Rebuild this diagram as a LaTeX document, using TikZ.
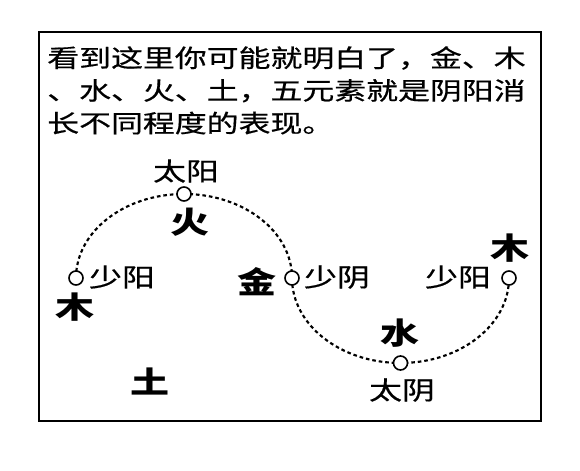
\documentclass[tikz,border=0pt]{standalone}
\usepackage{fontspec}
\usepackage{tikz}
\usepackage{tkz-euclide}
\newfontfamily\cjk[FakeStretch=1.3, FakeBold=0.6]{Noto Sans CJK SC}
\newfontfamily\cjkxing[FakeStretch=1.3]{Noto Sans CJK SC}
\tikzset{
	yypt/.style={circle, draw, line width=1.2pt, fill=white, minimum size=10.5pt, inner sep=0pt},
	yylabel/.style={font=\cjk\fontsize{19}{22}\selectfont, inner sep=0pt},
	xing/.style={font=\cjkxing\bfseries\fontsize{22.5}{26}\selectfont, inner sep=0pt},
	yyline/.style={line width=1.6pt, dash pattern=on 2.7pt off 2.2pt},
}

\begin{document}
\begin{tikzpicture}[x=0.75pt, y=0.75pt]
						\useasboundingbox (0,0) rectangle (580,470);
						\draw[line width=1.5pt] (39,49) rectangle (541,438);
						\node[anchor=north west, align=left, inner sep=0pt,
							font=\cjk\fontsize{18.4}{24.5}\selectfont] (intro) at (47,424)
							{看到这里你可能就明白了，金、木\\、水、火、土，五元素就是阴阳消\\长不同程度的表现。};
						
						% points of the wave
						\tkzDefPoint(76,192){SYa};
						\tkzDefPoint(184,276){TYa};
						\tkzDefPoint(292,192){SYi};
						\tkzDefPoint(400.5,107){TYi};
						\tkzDefPoint(509,192){SYb};
						
						% yang half and yin half
						\draw[yyline] (SYa) arc[start angle=180, end angle=0, x radius=108, y radius=84];
						\draw[yyline] (SYi) arc[start angle=180, end angle=360, x radius=108.5, y radius=85];
						
						\node[yypt] (sya) at (SYa) {};
						\node[yypt] (tya) at (TYa) {};
						\node[yypt] (syi) at (SYi) {};
						\node[yypt] (tyi) at (TYi) {};
						\node[yypt] (syb) at (SYb) {};
						
						\node[yylabel] (lta) at (186,299) {太阳};
						\node[yylabel] (lsa) at (122,193) {少阳};
						\node[yylabel] (lsi) at (337,193) {少阴};
						\node[yylabel] (lsb) at (458,193) {少阳};
						\node[yylabel] (lti) at (402,80) {太阴};
						
						\node[xing] (huo) at (190,248) {火};
						\node[xing] (mua) at (75,163) {木};
						\node[xing] (jin) at (257,188) {金};
						\node[xing] (shui) at (400,137) {水};
						\node[xing] (mub) at (510,222) {木};
						\node[xing] (tu) at (150,88) {土};
					\end{tikzpicture}
\end{document}
